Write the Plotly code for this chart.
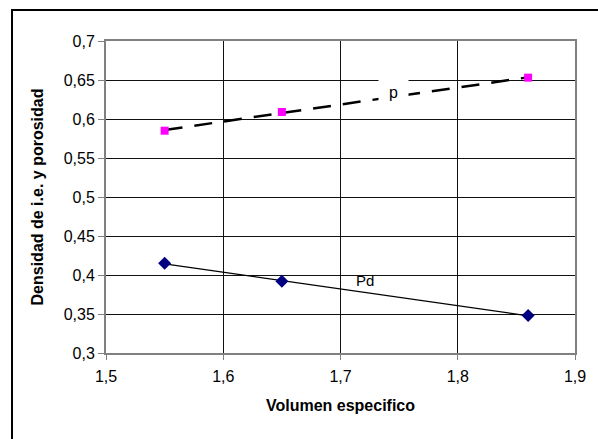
import numpy as np
import plotly.graph_objects as go

volumen = [1.55, 1.65, 1.86]
porosidad_p = [0.585, 0.609, 0.653]
densidad_pd = [0.415, 0.392, 0.348]

x_ticks = [1.5, 1.6, 1.7, 1.8, 1.9]
x_tick_labels = ["1,5", "1,6", "1,7", "1,8", "1,9"]
y_ticks = [0.3, 0.35, 0.4, 0.45, 0.5, 0.55, 0.6, 0.65, 0.7]
y_tick_labels = ["0,3", "0,35", "0,4", "0,45", "0,5", "0,55", "0,6", "0,65", "0,7"]

FONT = "Liberation Sans, Arial, sans-serif"

xv = np.array(volumen)
xs = np.array([xv.min(), xv.max()])
cp = np.polyfit(xv, porosidad_p, 1)
cd = np.polyfit(xv, densidad_pd, 1)

fig = go.Figure()
fig.add_trace(go.Scatter(x=xs, y=np.polyval(cp, xs), mode="lines",
                         line=dict(color="black", width=2.5, dash="18px,12px"),
                         showlegend=False, hoverinfo="skip"))
fig.add_trace(go.Scatter(x=xs, y=np.polyval(cd, xs), mode="lines",
                         line=dict(color="black", width=1.3),
                         showlegend=False, hoverinfo="skip"))
fig.add_trace(go.Scatter(x=volumen, y=porosidad_p, mode="markers", name="p",
                         marker=dict(symbol="square", size=8, color="#FF00FF"),
                         showlegend=False))
fig.add_trace(go.Scatter(x=volumen, y=densidad_pd, mode="markers", name="Pd",
                         marker=dict(symbol="diamond", size=10, color="#000080"),
                         showlegend=False))

fig.add_annotation(x=1.745, y=0.6346, text="p", showarrow=False,
                   font=dict(family=FONT, size=16, color="black"),
                   bgcolor="white", width=27, height=24)
fig.add_annotation(x=1.7205, y=0.393, text="Pd", showarrow=False,
                   font=dict(family=FONT, size=15, color="black"))

# outer chart frame
fig.add_shape(type="rect", xref="paper", yref="paper",
              x0=-0.2004, y0=-0.35, x1=1.1, y1=1.0994,
              line=dict(color="black", width=2), layer="above")

fig.update_layout(
    width=598, height=439,
    margin=dict(l=106, r=13, t=41, b=86),
    paper_bgcolor="white", plot_bgcolor="white",
    font=dict(family=FONT, size=16, color="black"),
    xaxis=dict(range=[1.5, 1.9], tickvals=x_ticks, ticktext=x_tick_labels,
               showgrid=True, gridcolor="#111111", gridwidth=1,
               showline=True, linecolor="#808080", linewidth=2, mirror=True,
               ticks="outside", ticklen=5, tickcolor="#808080",
               tickfont=dict(size=16), zeroline=False, ticklabelstandoff=3,
               title=dict(text="<b>Volumen especifico</b>", font=dict(size=16), standoff=16)),
    yaxis=dict(range=[0.3, 0.7], tickvals=y_ticks, ticktext=y_tick_labels,
               showgrid=True, gridcolor="#111111", gridwidth=1,
               showline=True, linecolor="#808080", linewidth=2, mirror=True,
               ticks="outside", ticklen=6, tickcolor="#808080",
               tickfont=dict(size=16), zeroline=False,
               title=dict(text="<b>Densidad de i.e. y porosidad</b>", font=dict(size=16), standoff=16)),
)

fig.write_html("out.html")
